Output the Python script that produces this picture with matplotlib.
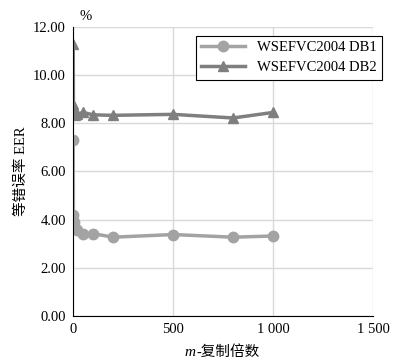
import numpy as np
import matplotlib.pyplot as plt
from matplotlib.ticker import FuncFormatter
from matplotlib.transforms import offset_copy

# replication factor m and EER (%) per database
m = [1, 2, 5, 10, 20, 50, 100, 200, 500, 800, 1000]
eer_db1 = [7.3, 4.2, 3.9, 3.65, 3.55, 3.4, 3.42, 3.27, 3.38, 3.27, 3.32]
eer_db2 = [11.3, 8.8, 8.45, 8.35, 8.38, 8.45, 8.35, 8.33, 8.37, 8.22, 8.45]
labels = ['WSEFVC2004 DB1', 'WSEFVC2004 DB2']

plt.rcParams['font.family'] = ['Liberation Serif', 'Noto Sans CJK SC']

fig = plt.figure(figsize=(3.99, 3.64), dpi=100)
ax = fig.add_axes([0.183, 0.132, 0.752, 0.794])

ax.plot(m, eer_db1, color='#a3a3a3', lw=2.5, marker='o', ms=7.5, label=labels[0])
ax.plot(m, eer_db2, color='#7f7f7f', lw=2.5, marker='^', ms=6.5, label=labels[1])

ax.set_xlim(0, 1500)
ax.set_ylim(0, 12)
ax.set_xticks([0, 500, 1000, 1500])
ax.set_yticks(np.arange(0, 12.1, 2))
ax.xaxis.set_major_formatter(FuncFormatter(lambda v, p: '{:,}'.format(int(v)).replace(',', ' ')))
ax.yaxis.set_major_formatter(FuncFormatter(lambda v, p: '%.2f' % v))
ax.grid(True, color='#d9d9d9', lw=1)
ax.set_axisbelow(True)
ax.tick_params(length=0, labelsize=10.5, pad=5)
for s in ['top', 'right']:
    ax.spines[s].set_visible(False)
ax.spines['left'].set_color('black')
ax.spines['bottom'].set_color('black')

ax.set_ylabel('等错误率 EER', fontsize=10.5, labelpad=4)
fig.text(0.2, 0.955, '%', fontsize=10.5, ha='left', va='center')

# x label: italic m followed by the CJK part
t1 = fig.text(0.463, 0.022, 'm', fontsize=11, style='italic', ha='left', va='baseline')
fig.canvas.draw()
w = t1.get_window_extent().width
fig.text(0.463, 0.022, '-复制倍数', fontsize=10.5, ha='left', va='baseline',
         transform=offset_copy(fig.transFigure, fig=fig, x=w + 0.5, y=0, units='dots'))

leg = ax.legend(loc='upper right', bbox_to_anchor=(0.975, 0.922),
                bbox_transform=fig.transFigure, fontsize=10.5, fancybox=False,
                edgecolor='black', framealpha=1, handlelength=3.0,
                borderpad=0.35, labelspacing=0.5)
leg.get_frame().set_linewidth(0.8)

fig.savefig('out.png', dpi=100)
